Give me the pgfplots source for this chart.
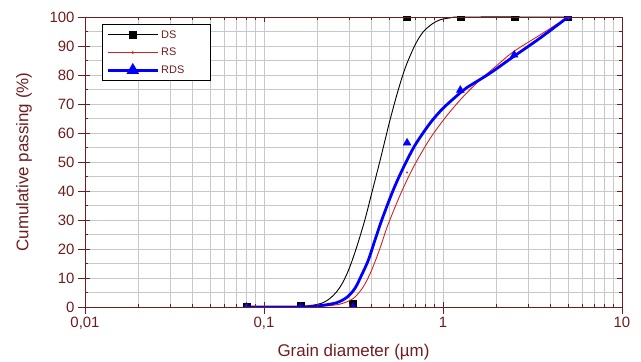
\documentclass[border=0pt]{standalone}
\usepackage{pgfplots}
\pgfplotsset{compat=1.18}
\usepackage{fontspec}
\setmainfont{Liberation Sans}
\definecolor{maroon}{RGB}{110,30,30}
\definecolor{gridgray}{RGB}{200,200,200}
\definecolor{rsred}{RGB}{212,32,32}
\begin{document}
\begin{tikzpicture}
\begin{axis}[name=ax,
  width=537bp, height=290bp, scale only axis,
  xmode=log, log basis x=10, xmin=0.01, xmax=10, ymin=0, ymax=100,
  xtick={0.01,0.1,1,10}, ytick={0,10,...,100},
  minor xtick={0.02,0.03,0.04,0.05,0.06,0.07,0.08,0.09,0.2,0.3,0.4,0.5,0.6,0.7,0.8,0.9,2,3,4,5,6,7,8,9},
  minor ytick={5,15,...,95},
  axis line style={maroon, line width=0.8bp},
  tick style={maroon, line width=0.8bp},
  xticklabels={0{,}01,0{,}1,1,10},
  grid=both,
  grid style={gridgray, line width=0.8bp},
  minor grid style={gridgray, line width=0.8bp},
  major grid style={gridgray, line width=0.8bp},
  xtick pos=left, ytick pos=left, tick align=outside,
  major tick length=7bp, minor tick length=0bp,
  ticklabel style={font=\fontsize{15}{18}\selectfont, text=maroon},
  /pgf/number format/assume math mode=true,
  xlabel={Grain diameter (µm)}, ylabel={Cumulative passing (\%)},
  xlabel style={at={(axis description cs:0.5,-0.155)}, anchor=center, font=\fontsize{17}{20}\selectfont, text=maroon},
  ylabel style={at={(axis description cs:-0.1136,0.5)}, anchor=center, font=\fontsize{17}{20}\selectfont, text=maroon},
  clip marker paths=true,
  legend style={at={(axis description cs:0.0317,0.976)}, anchor=north west,
    draw=black, line width=0.8bp, fill=white,
    font=\fontsize{11}{13}\selectfont, text=maroon,
    inner xsep=4bp, inner ysep=4bp, row sep=4.5bp,
    /tikz/every even column/.append style={column sep=6bp}},
  legend cell align=left,
]
% DS
\addplot[black, line width=0.9bp, smooth, tension=0.5, forget plot] coordinates {
(0.08,0) (0.14,0) (0.166,0.2) (0.188,0.6) (0.214,1.5) (0.234,3.0) (0.255,5.3) (0.277,8.7) (0.302,13.9) (0.330,20.8) (0.366,30.0) (0.40,39.3) (0.445,50.5) (0.506,64.5) (0.562,74.8) (0.62,83) (0.70,90.5) (0.776,94.9) (0.87,97.6) (0.96,99) (1.1,99.7) (1.3,100) (5,100)};
\addplot[black, only marks, mark=square*, mark size=3.5bp, forget plot] coordinates {
(0.08,0) (0.16,0.5) (0.315,1) (0.63,100) (1.25,100) (2.5,100) (5,100)};
% RS
\addplot[rsred, line width=0.9bp, smooth, tension=0.5, forget plot] coordinates {
(0.08,0) (0.16,0) (0.214,0.3) (0.266,1.0) (0.316,3.0) (0.359,7.0) (0.400,12.8) (0.445,20.3) (0.489,27.8) (0.575,38.5) (0.683,48.2) (0.845,58) (1.048,65.9) (1.30,72.6) (1.61,78.3) (2.0,83.3) (2.47,88) (3.48,93.8) (5,100)};
\addplot[rsred, only marks, mark=*, mark size=0.8bp, forget plot] coordinates {
(0.08,0) (0.16,0) (0.315,0) (0.63,46.4) (1.25,75) (2.5,88) (5,100)};
% RDS
\addplot[blue, line width=2.8bp, smooth, tension=0.5, forget plot] coordinates {
(0.08,0) (0.16,0) (0.181,0.2) (0.214,0.6) (0.255,1.5) (0.290,3.3) (0.322,6.4) (0.351,11.0) (0.383,16.2) (0.417,23.1) (0.455,30) (0.527,40.3) (0.600,48) (0.698,55.8) (0.845,63.3) (1.0,68.5) (1.24,73.7) (1.355,75.6) (1.83,80.6) (2.47,86.3) (3.48,92.7) (5,100)};
\addplot[blue, only marks, mark=triangle*, mark size=4.5bp, forget plot] coordinates {
(0.08,0) (0.16,0) (0.315,0) (0.63,56.6) (1.25,74.8) (2.5,86.9) (5,100)};
\addlegendimage{black, line width=0.9bp, mark=square*, mark size=3.5bp, legend image code/.code={\draw[mark repeat=2,mark phase=2] plot coordinates {(0bp,0bp) (25bp,0bp) (50bp,0bp)};}}
\addlegendentry{DS}
\addlegendimage{rsred, line width=0.9bp, mark=*, mark size=0.8bp, legend image code/.code={\draw[mark repeat=2,mark phase=2] plot coordinates {(0bp,0bp) (25bp,0bp) (50bp,0bp)};}}
\addlegendentry{RS}
\addlegendimage{blue, line width=2.8bp, mark=triangle*, mark size=4.5bp, legend image code/.code={\draw[mark repeat=2,mark phase=2] plot coordinates {(0bp,0bp) (25bp,0bp) (50bp,0bp)};}}
\addlegendentry{RDS\hspace*{20bp}}
\end{axis}
\begin{axis}[
  width=537bp, height=290bp, scale only axis,
  xmode=log, log basis x=10, xmin=0.01, xmax=10, ymin=0, ymax=100,
  xtick={0.01,0.1,1,10}, ytick={0,10,...,100},
  minor xtick={0.02,0.03,0.04,0.05,0.06,0.07,0.08,0.09,0.2,0.3,0.4,0.5,0.6,0.7,0.8,0.9,2,3,4,5,6,7,8,9},
  minor ytick={5,15,...,95},
  axis line style={maroon, line width=0.8bp},
  tick style={maroon, line width=0.8bp},
  xticklabels={}, yticklabels={},
  xtick pos=both, ytick pos=both, tick align=inside,
  major tick length=5bp, minor tick length=3bp,
]
\end{axis}
\pgfresetboundingbox
\path[use as bounding box] ([xshift=-85bp,yshift=-55bp]ax.south west) rectangle ([xshift=19bp,yshift=17bp]ax.north east);
\end{tikzpicture}
\end{document}
